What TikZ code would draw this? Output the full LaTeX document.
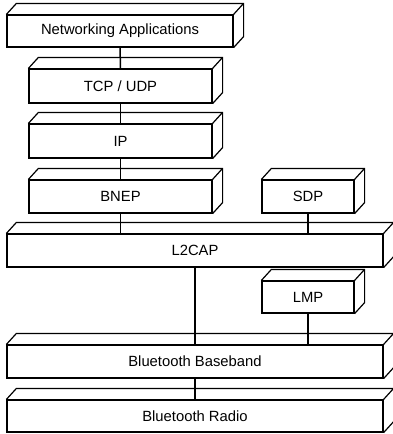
\documentclass[tikz,border=0pt]{standalone}
\usepackage{fontspec}
\setmainfont{Liberation Sans}
\usepackage{tikz}
\usetikzlibrary{positioning}
\usetikzlibrary{calc}

\tikzset{
  layer/.style={draw, line width=1.2pt, inner sep=0pt, minimum height=33pt,
    font=\fontsize{14.8}{16}\selectfont},
  depth/.style={line width=1.2pt, line join=miter},
  link/.style={line width=1.5pt}
}

\begin{document}
\begin{tikzpicture}[x=1pt, y=-1pt]
\useasboundingbox (0,0) rectangle (392,434);
% stack on the left
\node[layer, minimum width=226pt, minimum height=32pt] (apps) at (120,31) {Networking Applications};
\node[layer, minimum width=183pt, minimum height=34pt] (tcp) at (120.5,86) {TCP / UDP};
\node[layer, minimum width=183pt, minimum height=34pt] (ip) at (120.5,141) {IP};
\node[layer, minimum width=183pt] (bnep) at (120.5,196.5) {BNEP};
\node[layer, minimum width=92pt] (sdp) at (308,196.5) {SDP};
% wide layers
\node[layer, minimum width=376pt] (l2cap) at (195,250.5) {L2CAP};
\node[layer, minimum width=92pt, minimum height=32pt] (lmp) at (308,297) {LMP};
\node[layer, minimum width=376pt] (base) at (195,361.5) {Bluetooth Baseband};
\node[layer, minimum width=376pt, minimum height=32pt] (radio) at (195,416) {Bluetooth Radio};
% top and side faces
\foreach \n in {apps,tcp,ip,bnep,sdp,l2cap,lmp,base,radio}
  \draw[depth] (\n.north west) -- ++(10,-11) -- ($(\n.north east)+(10,-11)$) -- ($(\n.south east)+(10,-11)$) -- (\n.south east)
    (\n.north east) -- ++(10,-11);
% links
\draw[link] (apps.south) -- (tcp.north);
\draw[link] (tcp.south) -- (ip.north);
\draw[link] (ip.south) -- (bnep.north);
\draw[link] (bnep.south) -- (bnep.south |- l2cap.north);
\draw[link] (sdp.south) -- (sdp.south |- l2cap.north);
\draw[link] (l2cap.south) -- (base.north);
\draw[link] (lmp.south) -- (lmp.south |- base.north);
\draw[link] (base.south) -- (radio.north);
\end{tikzpicture}
\end{document}
